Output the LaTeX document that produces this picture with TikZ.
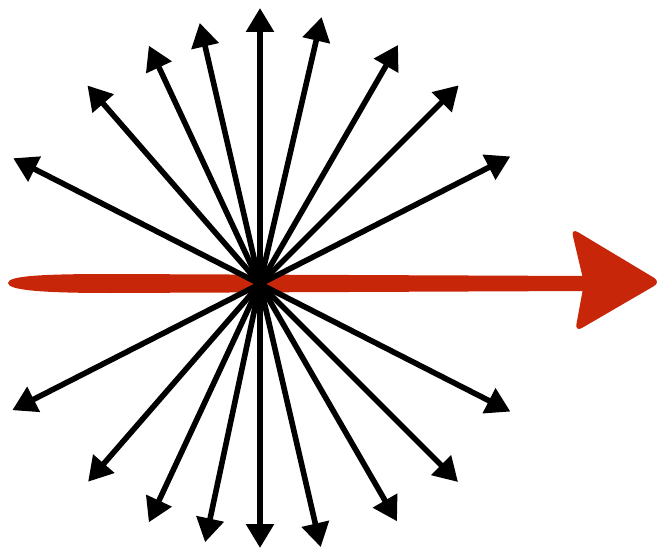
\documentclass[tikz,border=0pt]{standalone}
\usetikzlibrary{arrows.meta}
\definecolor{brushred}{RGB}{200,38,8}
\begin{document}
\begin{tikzpicture}[x=1pt, y=1pt, line join=round, line cap=round,
    spoke/.style={line width=5.6pt, -{Triangle[length=24pt, width=27pt]}}]
  \useasboundingbox (0,0) rectangle (659,550);
  \path (260,266) coordinate (O);
  % red brush arrow
  \fill[brushred] (8,267) .. controls (8,274) and (40,276) .. (110,276)
    -- (588,274) -- (588,259) -- (110,257)
    .. controls (40,257) and (8,260) .. cycle;
  \fill[brushred, rounded corners=8pt] (571,322) -- (661,268) -- (575,218)
    -- (584,267) -- cycle;
  % black spokes
  \foreach \ang/\len [count=\i] in {27/281, 45/281, 60/276, 77/274, 90/276,
      103/268, 115/263, 131/263, 153/277, 207/278, 229/262, 245/263,
      258/264, 270/264, 283/270, 300/274, 315/280, 333/281}
  {
    \path (O) ++(\ang:\len) coordinate (t\i);
    \draw[spoke] (O) -- (t\i);
  }
\end{tikzpicture}
\end{document}
